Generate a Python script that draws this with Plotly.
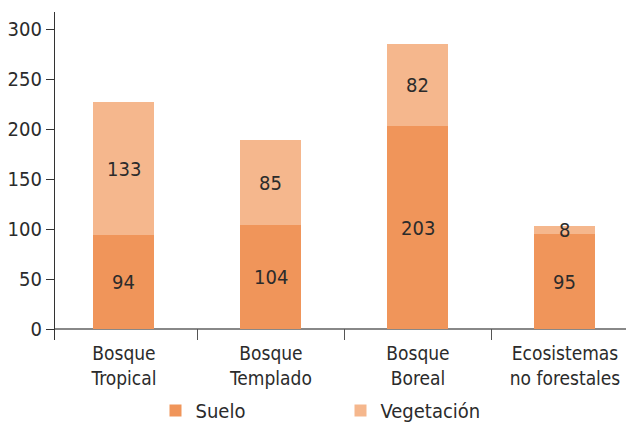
import plotly.graph_objects as go

# Carbon stocks by ecosystem (soil vs. vegetation)
categorias = ["Bosque<br>Tropical", "Bosque<br>Templado", "Bosque<br>Boreal", "Ecosistemas<br>no forestales"]
suelo = [94, 104, 203, 95]
vegetacion = [133, 85, 82, 8]
y_ticks = [0, 50, 100, 150, 200, 250, 300]

COLOR_SUELO = "#F0955A"
COLOR_VEG = "#F5B78D"
TEXT = "#2b2b2b"
FONT = "Liberation Sans Narrow, DejaVu Sans Condensed, Arial Narrow, sans-serif"

fig = go.Figure()
fig.add_trace(go.Bar(x=categorias, y=suelo, name="Suelo",
                     marker=dict(color=COLOR_SUELO, line=dict(width=0))))
fig.add_trace(go.Bar(x=categorias, y=vegetacion, name="Vegetación",
                     marker=dict(color=COLOR_VEG, line=dict(width=0))))

# Value labels centred on each stacked segment
for cat, s, v in zip(categorias, suelo, vegetacion):
    fig.add_annotation(x=cat, y=s / 2, text=str(s), showarrow=False,
                       font=dict(size=20, color=TEXT, family=FONT))
    fig.add_annotation(x=cat, y=s + v / 2, text=str(v), showarrow=False,
                       font=dict(size=20, color=TEXT, family=FONT))

fig.update_layout(
    barmode="stack",
    bargap=0.585,
    width=626, height=428,
    margin=dict(l=55, r=0, t=12, b=88, autoexpand=False),
    paper_bgcolor="white", plot_bgcolor="white",
    font=dict(family=FONT, size=20, color=TEXT),
    showlegend=True,
    legend=dict(orientation="h", x=0.5, xanchor="center",
                y=-0.215, yanchor="middle",
                font=dict(size=20, color=TEXT), entrywidth=140,
                itemwidth=30, traceorder="normal"),
    xaxis=dict(type="category", range=[-0.469, 3.415], showgrid=False, showline=False,
               zeroline=False, tickson="boundaries", ticks="inside", ticklen=11,
               tickcolor="#555", tickwidth=1.2, automargin=False,
               tickfont=dict(size=19, color=TEXT, family=FONT)),
    yaxis=dict(range=[-11, 317], tickvals=y_ticks, showgrid=False,
               showline=True, linecolor="#333", linewidth=1.2,
               ticks="outside", ticklen=8, tickcolor="#333", tickwidth=1.2,
               zeroline=True, zerolinecolor="#888", zerolinewidth=1.5, automargin=False,
               tickfont=dict(size=20, color=TEXT, family=FONT)),
)

fig.write_html("out.html")
